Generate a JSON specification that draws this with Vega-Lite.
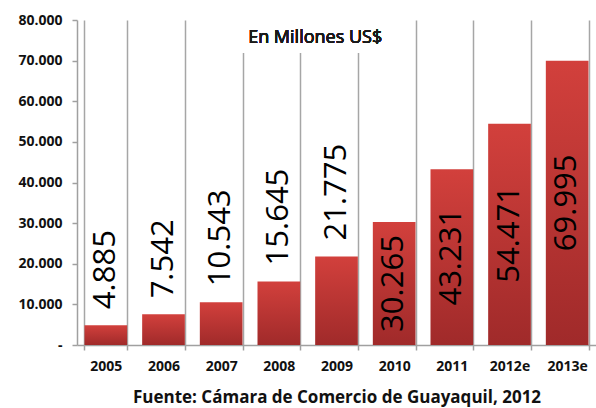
{
  "$schema": "https://vega.github.io/schema/vega-lite/v6.json",
  "autosize": {"type": "none"},
  "padding": {"left": 77, "top": 20, "right": 0, "bottom": 63},
  "width": 519,
  "height": 325,
  "config": {
    "font": "Open Sans",
    "view": {"stroke": null},
    "locale": {"number": {"decimal": ",", "thousands": ".", "grouping": [3], "currency": ["$", ""]}}
  },
  "data": {
    "values": [
      {"year": "2005", "value": 4885},
      {"year": "2006", "value": 7542},
      {"year": "2007", "value": 10543},
      {"year": "2008", "value": 15645},
      {"year": "2009", "value": 21775},
      {"year": "2010", "value": 30265},
      {"year": "2011", "value": 43231},
      {"year": "2012e", "value": 54471},
      {"year": "2013e", "value": 69995}
    ]
  },
  "layer": [
    {
      "mark": {
        "type": "bar",
        "color": {
          "gradient": "linear", "x1": 0, "y1": 0, "x2": 0, "y2": 1,
          "stops": [{"offset": 0, "color": "#d2403c"}, {"offset": 1, "color": "#a02a2a"}]
        }
      },
      "encoding": {
        "x": {
          "field": "year", "type": "ordinal", "sort": null,
          "scale": {"paddingInner": 0.26, "paddingOuter": 0.13},
          "axis": {
            "title": "Fuente: Cámara de Comercio de Guayaquil, 2012",
            "titleFontSize": 17, "titleFontWeight": "bold", "titleColor": "#111111", "titlePadding": 16,
            "labelAngle": 0, "labelFontSize": 14, "labelFontWeight": "bold", "labelColor": "#111111", "labelPadding": 9,
            "tickBand": "extent", "tickSize": 5, "tickColor": "#a0a0a0", "tickWidth": 1.5,
            "domainColor": "#a0a0a0", "domainWidth": 1.5,
            "grid": true, "gridColor": "#a6a6a6", "gridWidth": 1.5
          }
        },
        "y": {
          "field": "value", "type": "quantitative",
          "scale": {"domain": [0, 80000], "nice": false},
          "axis": {
            "title": null,
            "values": [0, 10000, 20000, 30000, 40000, 50000, 60000, 70000, 80000],
            "format": ",d",
            "labelExpr": "datum.value == 0 ? '-' : datum.label",
            "labelFontSize": 14, "labelFontWeight": "bold", "labelColor": "#111111", "labelPadding": 10,
            "tickSize": 5, "tickColor": "#a0a0a0", "tickWidth": 1.5,
            "domainColor": "#a0a0a0", "domainWidth": 1.5,
            "grid": false
          }
        }
      }
    },
    {
      "transform": [{"filter": "datum.value < 25000"}],
      "mark": {"type": "text", "angle": 270, "align": "left", "baseline": "middle", "dx": 16, "fontSize": 31, "fontWeight": 500, "color": "#000000"},
      "encoding": {
        "x": {"field": "year", "type": "ordinal", "sort": null},
        "y": {"field": "value", "type": "quantitative"},
        "text": {"field": "value", "type": "quantitative", "format": ",d"}
      }
    },
    {
      "transform": [{"filter": "datum.value >= 25000"}, {"calculate": "datum.value / 2", "as": "mid"}],
      "mark": {"type": "text", "angle": 270, "align": "center", "baseline": "middle", "fontSize": 31, "fontWeight": 500, "color": "#000000"},
      "encoding": {
        "x": {"field": "year", "type": "ordinal", "sort": null},
        "y": {"field": "mid", "type": "quantitative"},
        "text": {"field": "value", "type": "quantitative", "format": ",d"}
      }
    },
    {
      "mark": {"type": "rect", "color": "#ffffff"},
      "encoding": {
        "x": {"datum": "2007"},
        "x2": {"datum": "2010"},
        "y": {"datum": 72000},
        "y2": {"datum": 80000}
      }
    },
    {
      "mark": {"type": "text", "align": "center", "baseline": "middle", "fontSize": 18, "fontWeight": 500, "color": "#1a1a1a", "text": "En Millones US$"},
      "encoding": {
        "x": {"datum": "2009", "bandPosition": 0},
        "y": {"datum": 75500}
      }
    }
  ]
}
